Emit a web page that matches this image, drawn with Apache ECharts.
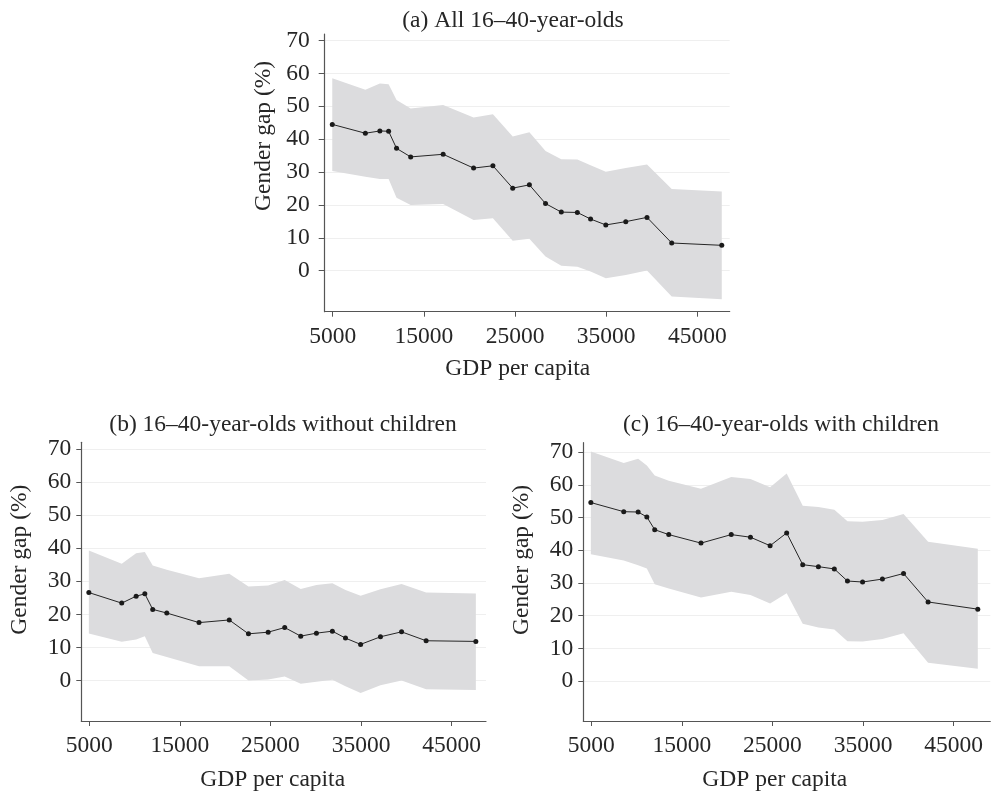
<!DOCTYPE html>
<html lang="en">
<head>
<meta charset="UTF-8">
<title>Gender gap and GDP per capita</title>
<script src="https://cdn.jsdelivr.net/npm/echarts@6/dist/echarts.min.js"></script>
<style>
  html, body { margin: 0; padding: 0; background: #fff; }
  #chart { width: 991px; height: 794px; }
</style>
</head>
<body>
<div id="chart"></div>
<script>
// GDP per capita of each country (shared by the three panels)
var gdpPerCapita = [4950, 8580, 10170, 11130, 12000, 13550, 17110, 20450, 22570, 24740,
                    26570, 28340, 30070, 31830, 33280, 34950, 37140, 39470, 42180, 47670];

// (a) all 16-40-year-olds
var allGap   = [44.5, 41.8, 42.5, 42.4, 37.2, 34.6, 35.4, 31.2, 31.9, 25.1, 26.1, 20.4, 17.8, 17.7, 15.7, 13.9, 14.9, 16.2, 8.4, 7.7];
var allUpper = [58.5, 55.0, 56.9, 56.7, 51.9, 49.3, 50.4, 46.6, 47.6, 40.8, 42.1, 36.4, 33.9, 33.8, 32.1, 30.1, 31.2, 32.3, 24.8, 24.1];
var allLower = [30.3, 28.6, 27.9, 27.9, 22.2, 20.0, 20.3, 15.4, 15.9, 9.1, 9.7, 4.3, 1.5, 1.2, -0.3, -2.3, -1.3, 0.0, -7.9, -8.7];

// (b) without children
var noKidsGap   = [26.6, 23.4, 25.5, 26.2, 21.5, 20.4, 17.5, 18.3, 14.1, 14.6, 16.0, 13.4, 14.3, 14.9, 12.8, 10.9, 13.2, 14.7, 12.0, 11.8];
var noKidsUpper = [39.3, 35.3, 38.5, 38.9, 34.8, 33.5, 30.9, 32.3, 28.4, 28.7, 30.4, 27.7, 28.9, 29.4, 27.4, 25.6, 27.6, 29.2, 26.6, 26.3];
var noKidsLower = [14.2, 11.7, 12.4, 13.4, 8.3, 7.1, 4.3, 4.3, 0.0, 0.3, 1.2, -1.0, -0.4, 0.2, -1.8, -3.8, -1.5, 0.0, -2.7, -2.9];

// (c) with children
var kidsGap   = [54.6, 51.8, 51.7, 50.2, 46.3, 44.8, 42.2, 44.8, 44.0, 41.4, 45.3, 35.6, 35.0, 34.3, 30.6, 30.3, 31.2, 32.9, 24.2, 22.0];
var kidsUpper = [70.2, 66.7, 68.0, 65.9, 62.9, 61.3, 58.8, 62.4, 61.8, 59.3, 63.5, 53.6, 53.2, 52.4, 48.9, 48.7, 49.3, 51.1, 42.6, 40.5];
var kidsLower = [38.8, 36.9, 35.4, 34.4, 29.6, 28.3, 25.6, 27.3, 26.3, 23.7, 26.9, 17.5, 16.4, 15.8, 12.2, 12.1, 12.9, 14.6, 5.6, 3.8];

var xTicks = [5000, 15000, 25000, 35000, 45000];
var yTicks = [0, 10, 20, 30, 40, 50, 60, 70];
var panelTitles = ['(a) All 16\u201340-year-olds',
                   '(b) 16\u201340-year-olds without children',
                   '(c) 16\u201340-year-olds with children'];

var FONT = "'Liberation Serif', 'DejaVu Serif', serif";
var FS = 23.5;
var TEXT = '#262626';
var AXIS = '#555555';

var chart = echarts.init(document.getElementById('chart'));

function pairs(y) {
  var out = [];
  for (var i = 0; i < gdpPerCapita.length; i++) out.push([gdpPerCapita[i], y[i]]);
  return out;
}
function bandRows(upper, lower) {
  var out = [];
  for (var i = 0; i < gdpPerCapita.length; i++) out.push([gdpPerCapita[i], lower[i], upper[i]]);
  return out;
}
// the whole band is drawn as one polygon when the first item is rendered
function bandRenderer(rows) {
  return function (params, api) {
    if (params.dataIndex !== 0) return null;
    var pts = [], i;
    for (i = 0; i < rows.length; i++) pts.push(api.coord([rows[i][0], rows[i][2]]));
    for (i = rows.length - 1; i >= 0; i--) pts.push(api.coord([rows[i][0], rows[i][1]]));
    return {type: 'polygon', shape: {points: pts}, style: {fill: '#dcdcde', stroke: null}, silent: true};
  };
}

// one panel: grid box, axis ranges and name shifts
var panels = [
  {grid: {left: 324.7, top: 34, width: 405, height: 277.7}, xMin: 4120, xMax: 48540, yMin: -12.5, yMax: 72.0,
   gap: allGap, upper: allUpper, lower: allLower, labelMargin: 15, tickLen: 6, xNameGap: 45, xNamePad: 19, yNamePad: 74},
  {grid: {left: 81.3, top: 442.3, width: 404.7, height: 278.7}, xMin: 4117, xMax: 48790, yMin: -12.3, yMax: 72.1,
   gap: noKidsGap, upper: noKidsUpper, lower: noKidsLower, labelMargin: 10, tickLen: 5, xNameGap: 47, xNamePad: 22, yNamePad: 44},
  {grid: {left: 583.3, top: 442.7, width: 407, height: 278.3}, xMin: 4116, xMax: 49050, yMin: -12.2, yMax: 72.9,
   gap: kidsGap, upper: kidsUpper, lower: kidsLower, labelMargin: 10, tickLen: 5, xNameGap: 47, xNamePad: 24, yNamePad: 44}
];
var titlePos = [{left: 513, top: 9}, {left: 283, top: 413}, {left: 781, top: 413}];

var grids = [], xAxes = [], yAxes = [], series = [], titles = [];
for (var p = 0; p < panels.length; p++) {
  var P = panels[p];
  grids.push({left: P.grid.left, top: P.grid.top, width: P.grid.width, height: P.grid.height,
              containLabel: false, outerBoundsMode: 'none'});
  titles.push({text: panelTitles[p], left: titlePos[p].left, top: titlePos[p].top, textAlign: 'center',
               padding: 0,
               textStyle: {fontFamily: FONT, fontSize: FS, fontWeight: 'normal', color: TEXT}});
  xAxes.push({
    type: 'value', gridIndex: p, min: P.xMin, max: P.xMax,
    name: 'GDP per capita', nameLocation: 'middle', nameGap: P.xNameGap,
    nameTextStyle: {fontFamily: FONT, fontSize: FS, color: TEXT, padding: [0, P.xNamePad, 0, 0]},
    axisLine: {show: true, onZero: false, lineStyle: {color: AXIS, width: 1.2}},
    axisTick: {show: true, length: 5, customValues: xTicks, lineStyle: {color: AXIS}},
    axisLabel: {show: true, customValues: xTicks, margin: 13, fontFamily: FONT, fontSize: FS, color: TEXT,
                formatter: function (v) { return String(v); }},
    splitLine: {show: false}
  });
  yAxes.push({
    type: 'value', gridIndex: p, min: P.yMin, max: P.yMax,
    name: 'Gender gap (%)', nameLocation: 'middle', nameGap: 49, nameRotate: 90,
    nameTextStyle: {fontFamily: FONT, fontSize: FS, color: TEXT, padding: [0, 0, 0, P.yNamePad]},
    axisLine: {show: true, onZero: false, lineStyle: {color: AXIS, width: 1.2}},
    axisTick: {show: true, length: P.tickLen, customValues: yTicks, lineStyle: {color: AXIS}},
    axisLabel: {show: true, customValues: yTicks, margin: P.labelMargin, fontFamily: FONT, fontSize: FS, color: TEXT,
                formatter: function (v) { return String(v); }},
    splitLine: {show: true, lineStyle: {color: '#efefef', width: 1}}
  });
  // confidence band
  series.push({
    type: 'custom', xAxisIndex: p, yAxisIndex: p, data: bandRows(P.upper, P.lower),
    renderItem: bandRenderer(bandRows(P.upper, P.lower)), silent: true, z: 1
  });
  // gender gap line with markers
  series.push({
    type: 'line', xAxisIndex: p, yAxisIndex: p, data: pairs(P.gap),
    symbol: 'circle', symbolSize: 5, showSymbol: true,
    itemStyle: {color: '#1a1a1a'}, lineStyle: {color: '#262626', width: 1}, z: 3
  });
}

chart.setOption({
  animation: false,
  backgroundColor: '#ffffff',
  title: titles,
  grid: grids,
  xAxis: xAxes,
  yAxis: yAxes,
  series: series
});
</script>
</body>
</html>
